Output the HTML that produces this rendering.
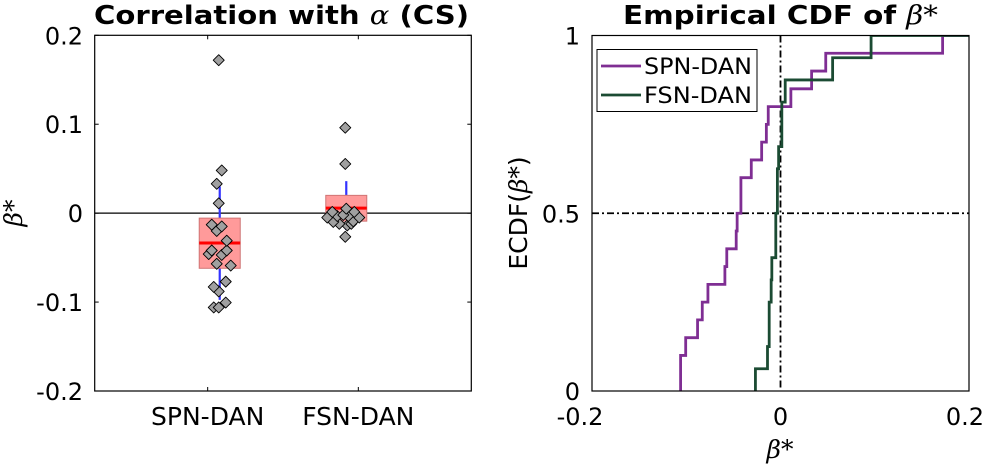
<!DOCTYPE html>
<html><head><meta charset="utf-8"><style>
body{margin:0;background:#fff;}
svg text{font-family:"DejaVu Sans","Liberation Sans",sans-serif;}
svg text.it, svg tspan.it{font-family:"DejaVu Serif",serif;font-style:italic;}
</style></head><body>
<svg id="c" width="989" height="467" xmlns="http://www.w3.org/2000/svg">
<text x="94" y="24" font-size="26" font-weight="bold" textLength="375" lengthAdjust="spacingAndGlyphs">Correlation with <tspan class="it" font-weight="normal">α</tspan> (CS)</text>
<text x="623" y="24" font-size="26" font-weight="bold" textLength="315" lengthAdjust="spacingAndGlyphs">Empirical CDF of <tspan class="it" font-weight="normal">β*</tspan></text>
<g id="left"></g>
<g id="right"></g>
<text class="it" transform="translate(22,213) rotate(-90)" text-anchor="middle" font-size="25">β*</text>
<text transform="translate(527,213) rotate(-90)" text-anchor="middle" font-size="25">ECDF(<tspan class="it">β*</tspan>)</text>
<text class="it" x="780" y="458" text-anchor="middle" font-size="25">β*</text>
</svg>
<script>
const categories=["SPN-DAN","FSN-DAN"];
const spnValues=[-0.106,-0.106,-0.1006,-0.088,-0.083,-0.077,-0.059,-0.057,-0.047,-0.046,-0.042,-0.042,-0.031,-0.020,-0.015,-0.013,0.011,0.033,0.048,0.172];
const fsnValues=[-0.0266,-0.0138,-0.012,-0.012,-0.0099,-0.0092,-0.005,-0.005,-0.0033,-0.0033,-0.002,0.0014,0.0014,0.005,0.0553,0.0961];
const boxQ1=[-0.062,-0.009];
const boxMedian=[-0.0335,0.0056];
const boxQ3=[-0.0056,0.020];
const whiskerLow=[-0.0975,-0.019];
const whiskerHigh=[0.030,0.036];
const spnJitter=[-5,0,7,0,-5,7,12,-2,3,-10,8,-7,8,-2,3,-7,0,-2,3,0];
const fsnJitter=[0,2,-6,6,-12,8,-18,14,-8,3,-2,-13,9,1,0,0];
const leftYTicks=[-0.2,-0.1,0,0.1,0.2];
const leftYTickLabels=["-0.2","-0.1","0","0.1","0.2"];
const rightXTicks=[-0.2,0,0.2];
const rightXTickLabels=["-0.2","0","0.2"];
const rightYTicks=[0,0.5,1];
const rightYTickLabels=["0","0.5","1"];
const NS="http://www.w3.org/2000/svg";
function mk(p,t,a){const e=document.createElementNS(NS,t);for(const k in a)e.setAttribute(k,a[k]);p.appendChild(e);return e;}
const L=document.getElementById('left');
const lx0=94.7,lx1=471.3,ly0=35.3,ly1=391;
const ly=v=>ly1-(v+0.2)/0.4*(ly1-ly0);
const lx=c=>lx0+(c-0.25)/2.5*(lx1-lx0);
const boxOff=[0.08,-0.08];
let e=mk(L,'line',{x1:lx0,x2:lx1,y1:ly(0),y2:ly(0),stroke:'#000','stroke-width':1.2});

const groups=[spnValues,fsnValues],jit=[spnJitter,fsnJitter];
for(let i=0;i<2;i++){
 const cx=lx(i+1+boxOff[i]);
 e=mk(L,'line',{x1:cx,x2:cx,y1:ly(whiskerLow[i]),y2:ly(whiskerHigh[i]),stroke:'#3333ff','stroke-width':2.2});
 
 e=mk(L,'rect',{x:cx-20.5,y:ly(boxQ3[i]),width:41,height:ly(boxQ1[i])-ly(boxQ3[i]),fill:'#ff9a9a',stroke:'#d07474','stroke-width':1});
 
 e=mk(L,'line',{x1:cx-20.5,x2:cx+20.5,y1:ly(boxMedian[i]),y2:ly(boxMedian[i]),stroke:'#ff0000','stroke-width':3});
 
 groups[i].forEach((v,j)=>{const x=cx+jit[i][j]-1,y=ly(v);
  const d=mk(L,'polygon',{points:`${x},${y-5.5} ${x+5.5},${y} ${x},${y+5.5} ${x-5.5},${y}`,fill:'#a0a0a0',stroke:'#000','stroke-width':0.9,'stroke-linejoin':'round'});
  });
}
e=mk(L,'rect',{x:lx0,y:ly0,width:lx1-lx0,height:ly1-ly0,fill:'none',stroke:'#000','stroke-width':1.2});

leftYTicks.forEach((t,i)=>{mk(L,'line',{x1:lx0,x2:lx0+4,y1:ly(t),y2:ly(t),stroke:'#000'});mk(L,'line',{x1:lx1,x2:lx1-4,y1:ly(t),y2:ly(t),stroke:'#000'});
 const tx=mk(L,'text',{x:83,y:ly(t)+9,'text-anchor':'end','font-size':24});tx.textContent=leftYTickLabels[i];
 });
categories.forEach((c,i)=>{const x=lx(i+1);mk(L,'line',{x1:x,x2:x,y1:ly1,y2:ly1-4,stroke:'#000'});mk(L,'line',{x1:x,x2:x,y1:ly0,y2:ly0+4,stroke:'#000'});
 const tx=mk(L,'text',{x:x,y:425,'text-anchor':'middle','font-size':25});tx.textContent=c;
 });
const R=document.getElementById('right');
const rx0=592,rx1=969,ry0=35.5,ry1=391;
const rx=v=>rx0+(v+0.2)/0.4*(rx1-rx0);
const ry=p=>ry1-p*(ry1-ry0);
mk(R,'clipPath',{id:'cp'}).appendChild(document.createElementNS(NS,'rect'));
const cr=R.querySelector('#cp rect');cr.setAttribute('x',rx0);cr.setAttribute('y',ry0);cr.setAttribute('width',rx1-rx0);cr.setAttribute('height',ry1-ry0);
e=mk(R,'line',{x1:rx0,x2:rx1,y1:ry(0.5),y2:ry(0.5),stroke:'#000','stroke-width':1.8,'stroke-dasharray':'7,3,2,3'});

e=mk(R,'line',{x1:rx(0),x2:rx(0),y1:ry0,y2:ry1,stroke:'#000','stroke-width':1.8,'stroke-dasharray':'7,3,2,3'});

const colors=['#7f2e93','#1b4b33'];
groups.forEach((g,i)=>{const s=[...g].sort((a,b)=>a-b);const n=s.length;
 let d=`M${rx(s[0])},${ry(0)}`;s.forEach((v,j)=>{d+=` L${rx(v)},${ry(j/n)} L${rx(v)},${ry((j+1)/n)}`;if(j<n-1)d+=` L${rx(s[j+1])},${ry((j+1)/n)}`;});
 d+=` L${rx1+5},${ry(1)}`;
 const p=mk(R,'path',{d:d,fill:'none',stroke:colors[i],'stroke-width':2.8,'clip-path':'url(#cp)'});
 });
e=mk(R,'rect',{x:rx0,y:ry0,width:rx1-rx0,height:ry1-ry0,fill:'none',stroke:'#000','stroke-width':1.2});

rightXTicks.forEach((t,i)=>{const tx=mk(R,'text',{x:rx(t)+(i==0?-12:i==2?-4:0),y:425,'text-anchor':'middle','font-size':24});tx.textContent=rightXTickLabels[i];
 });
rightYTicks.forEach((t,i)=>{const tx=mk(R,'text',{x:580,y:ry(t)+9,'text-anchor':'end','font-size':24});tx.textContent=rightYTickLabels[i];
 });
const lg=mk(R,'g',{});
mk(lg,'rect',{x:597,y:49.5,width:160,height:62,fill:'#fff',stroke:'#000','stroke-width':1});
categories.forEach((c,i)=>{const y=66+i*29;mk(lg,'line',{x1:601,x2:641,y1:y,y2:y,stroke:colors[i],'stroke-width':2.8});
 const tx=mk(lg,'text',{x:644,y:y+8,'font-size':22,textLength:108,lengthAdjust:'spacingAndGlyphs'});tx.textContent=c;
 });
</script>
</body></html>
